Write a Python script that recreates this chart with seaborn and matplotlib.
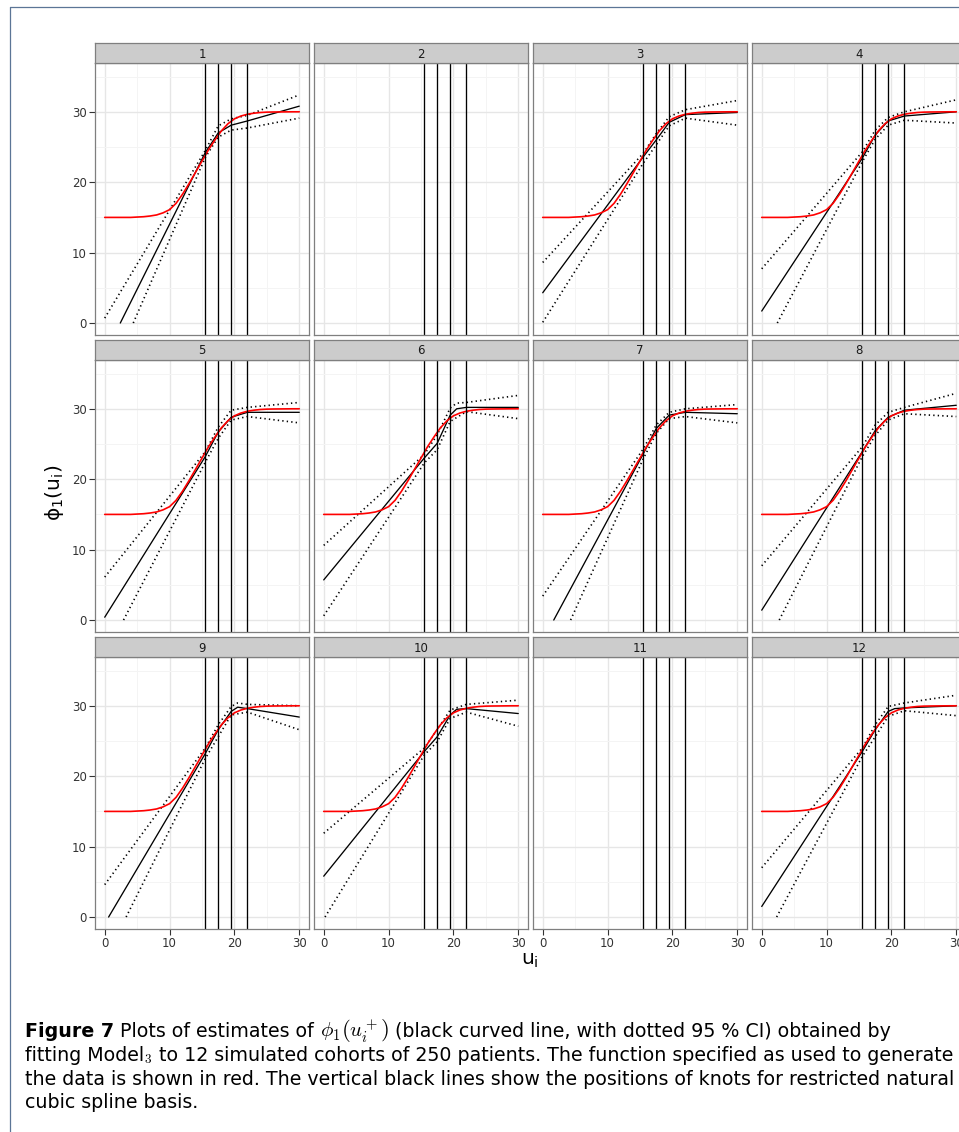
import matplotlib
matplotlib.use("Agg")
import matplotlib.pyplot as plt
import seaborn as sns
import pandas as pd
from matplotlib.lines import Line2D

# ---------------- data ----------------
panels = [1, 2, 3, 4, 5, 6, 7, 8, 9, 10, 11, 12]
knots = [15.5, 17.5, 19.5, 22.0]

# true function (red)
u_true = [0, 1, 2, 3, 4, 5, 6, 7, 8, 9, 10, 11, 12, 13, 14, 15, 16, 17, 18, 19,
          20, 21, 22, 23, 24, 25, 26, 27, 28, 29, 30]
phi_true = [15.0, 15.0, 15.0, 15.0, 15.0, 15.05, 15.1, 15.2, 15.35, 15.65, 16.1,
            17.0, 18.3, 19.8, 21.4, 23.0, 24.6, 26.0, 27.3, 28.3, 29.0, 29.4,
            29.65, 29.8, 29.9, 29.95, 29.97, 29.98, 29.99, 30.0, 30.0]

K6 = [15.5, 17.5, 19.5, 22, 30]

# estimated curve (black): panel -> (u, phi)
estimate = {
    1: ([2.4] + K6, [0, 24.2, 27.0, 28.1, 28.7, 30.8]),
    3: ([0] + K6, [4.3, 23.6, 26.0, 28.5, 29.6, 29.9]),
    4: ([0] + K6, [1.7, 23.4, 26.7, 28.7, 29.4, 30.0]),
    5: ([0] + K6, [0.4, 23.2, 26.7, 28.8, 29.5, 29.5]),
    6: ([0, 15.5, 17.5, 19.5, 20.5, 22, 30], [5.7, 23.0, 25.1, 29.1, 30.0, 30.2, 30.2]),
    7: ([1.7] + K6, [0, 23.6, 27.2, 29.1, 29.5, 29.3]),
    8: ([0] + K6, [1.4, 23.9, 26.9, 28.8, 29.8, 30.5]),
    9: ([0.6, 15.5, 17.5, 19.5, 20.5, 22, 30], [0, 23.2, 26.6, 29.2, 29.8, 29.6, 28.4]),
    10: ([0, 15.5, 17.5, 19.5, 20.5, 22, 30], [5.8, 23.5, 25.6, 28.7, 29.5, 29.6, 28.9]),
    12: ([0, 15.5, 17.5, 19.5, 20.5, 22, 30], [1.5, 23.5, 26.6, 29.2, 29.6, 29.7, 30.0]),
}
# upper 95% CI (dotted)
upper = {
    1: ([0] + K6, [0.7, 24.5, 28.0, 29.0, 29.5, 32.4]),
    3: ([0] + K6, [8.6, 24.1, 26.9, 29.3, 30.3, 31.6]),
    4: ([0] + K6, [7.7, 24.3, 27.4, 29.2, 30.0, 31.7]),
    5: ([0] + K6, [6.1, 23.9, 27.4, 29.8, 30.2, 30.9]),
    6: ([0, 15.5, 17.5, 19.5, 20.5, 22, 30], [10.6, 23.5, 26.3, 30.1, 30.8, 30.9, 31.9]),
    7: ([0] + K6, [3.4, 24.3, 27.7, 29.5, 30.0, 30.6]),
    8: ([0] + K6, [7.7, 24.6, 27.7, 29.5, 30.2, 32.2]),
    9: ([0, 15.5, 17.5, 19.5, 20.5, 22, 30], [4.6, 24.0, 27.3, 29.9, 30.4, 30.2, 30.0]),
    10: ([0] + K6, [11.9, 24.0, 26.6, 29.4, 30.2, 30.8]),
    12: ([0] + K6, [7.0, 24.0, 27.3, 29.9, 30.4, 31.5]),
}
# lower 95% CI (dotted)
lower = {
    1: ([4.4] + K6, [0, 23.5, 26.4, 27.4, 27.7, 29.1]),
    3: ([0] + K6, [0.1, 22.7, 25.3, 28.0, 29.1, 28.1]),
    4: ([2.4] + K6, [0, 22.9, 26.1, 28.1, 28.8, 28.4]),
    5: ([2.9] + K6, [0, 22.4, 25.8, 28.4, 28.9, 28.0]),
    6: ([0] + K6, [0.6, 22.3, 24.2, 28.2, 29.6, 28.6]),
    7: ([4.3] + K6, [0, 22.9, 26.5, 28.6, 28.9, 28.0]),
    8: ([2.7] + K6, [0, 23.2, 26.2, 28.4, 29.3, 28.9]),
    9: ([3.3] + K6, [0, 22.5, 25.6, 28.7, 29.1, 26.6]),
    10: ([0.2] + K6, [0, 23.0, 24.9, 28.2, 29.1, 27.1]),
    12: ([2.3] + K6, [0, 22.8, 25.6, 28.5, 29.3, 28.6]),
}

x_ticks = [0, 10, 20, 30]
y_ticks = [0, 10, 20, 30]
x_label = r"$\mathregular{u_i}$"
y_label = r"$\mathregular{\phi_1(u_i)}$"

# ---------------- style ----------------
sns.set_theme(style="white")
plt.rcParams['font.family'] = ['DejaVu Sans']
plt.rcParams['mathtext.fontset'] = 'dejavusans'

W, H = 959, 1132
fig = plt.figure(figsize=(W / 100, H / 100), dpi=100)
fig.patch.set_facecolor('white')


def px_axes(left, top, w, h):
    return fig.add_axes([left / W, 1 - (top + h) / H, w / W, h / H])


col_left = [95, 314, 533, 752]
row_top = [63, 360, 657]
pw, ph, sh = 214, 272, 20
grey50 = '#7f7f7f'

for i, p in enumerate(panels):
    r, c = divmod(i, 4)
    ax = px_axes(col_left[c], row_top[r], pw, ph)
    ax.set_facecolor('white')
    ax.set_xlim(-1.5, 31.5)
    ax.set_ylim(-1.7, 36.93)
    ax.set_xticks(x_ticks)
    ax.set_xticks([5, 15, 25], minor=True)
    ax.set_yticks(y_ticks)
    ax.set_yticks([5, 15, 25, 35], minor=True)
    ax.grid(which='major', color='#e6e6e6', lw=1.0)
    ax.grid(which='minor', color='#f4f4f4', lw=0.7)
    ax.set_axisbelow(True)
    for s in ax.spines.values():
        s.set_color(grey50)
        s.set_linewidth(0.9)
    ax.tick_params(which='major', direction='out', length=4.0, width=0.8,
                   color='#333333', labelsize=8.5, labelcolor='#333333', pad=1.8)
    ax.tick_params(which='minor', length=0)
    ax.tick_params(left=(c == 0), labelleft=(c == 0),
                   bottom=(r == 2), labelbottom=(r == 2))

    if p in estimate:
        for d in (upper, lower):
            uu, vv = d[p]
            sns.lineplot(x=uu, y=vv, ax=ax, color='black', lw=1.2,
                         linestyle=(0, (0.8, 1.9)), estimator=None, sort=False)
        uu, vv = estimate[p]
        sns.lineplot(x=uu, y=vv, ax=ax, color='black', lw=0.95,
                     estimator=None, sort=False)
        sns.lineplot(x=u_true, y=phi_true, ax=ax, color='red', lw=1.2,
                     estimator=None, sort=False)
    for k in knots:
        ax.axvline(k, color='black', lw=0.95)
    ax.set_xlabel('')
    ax.set_ylabel('')

    # strip
    sa = px_axes(col_left[c], row_top[r] - sh, pw, sh)
    sa.set_facecolor('#cccccc')
    sa.set_xticks([])
    sa.set_yticks([])
    for s in sa.spines.values():
        s.set_color(grey50)
        s.set_linewidth(0.9)
    sa.text(0.5, 0.45, str(p), ha='center', va='center', fontsize=8.5,
            color='#1a1a1a', transform=sa.transAxes)

fig.text(530 / W, 1 - 960 / H, x_label, ha='center', va='center', fontsize=14.5,
         color='black')
fig.text(55 / W, 1 - 493 / H, y_label, ha='center', va='center', fontsize=14.5,
         rotation=90, color='black')

# border
bc = '#5b7596'
fig.add_artist(Line2D([9.5 / W, 9.5 / W], [0, 1 - 7 / H], color=bc, lw=0.9,
                      transform=fig.transFigure))
fig.add_artist(Line2D([9.5 / W, 1.0], [1 - 7 / H, 1 - 7 / H], color=bc, lw=0.9,
                      transform=fig.transFigure))

# caption
cap_font = ['DejaVu Sans']
cap_size = 13.7
renderer = fig.canvas.get_renderer()


def runs(x, y, parts):
    for s, kw in parts:
        kw = dict(kw)
        size = kw.pop('size', cap_size)
        t = fig.text(x / W, 1 - y / H, s, va='baseline', ha='left',
                     fontsize=size, family=cap_font, color='black', **kw)
        bb = t.get_window_extent(renderer)
        x += bb.width


runs(25, 1037, [("Figure 7", dict(weight='bold')),
                (" Plots of estimates of ", {}),
                (r"$\phi_1\left(u_i^+\right)$", dict(math_fontfamily='cm', size=15)),
                (" (black curved line, with dotted 95 % CI) obtained by", {})])
runs(25, 1061, [("fitting Model", {}), (r"$_3$", dict(math_fontfamily='cm')),
                (" to 12 simulated cohorts of 250 patients. The function specified as used to generate", {})])
runs(25, 1085, [("the data is shown in red. The vertical black lines show the positions of knots for restricted natural", {})])
runs(25, 1108, [("cubic spline basis.", {})])

fig.savefig("out.png", dpi=100)
